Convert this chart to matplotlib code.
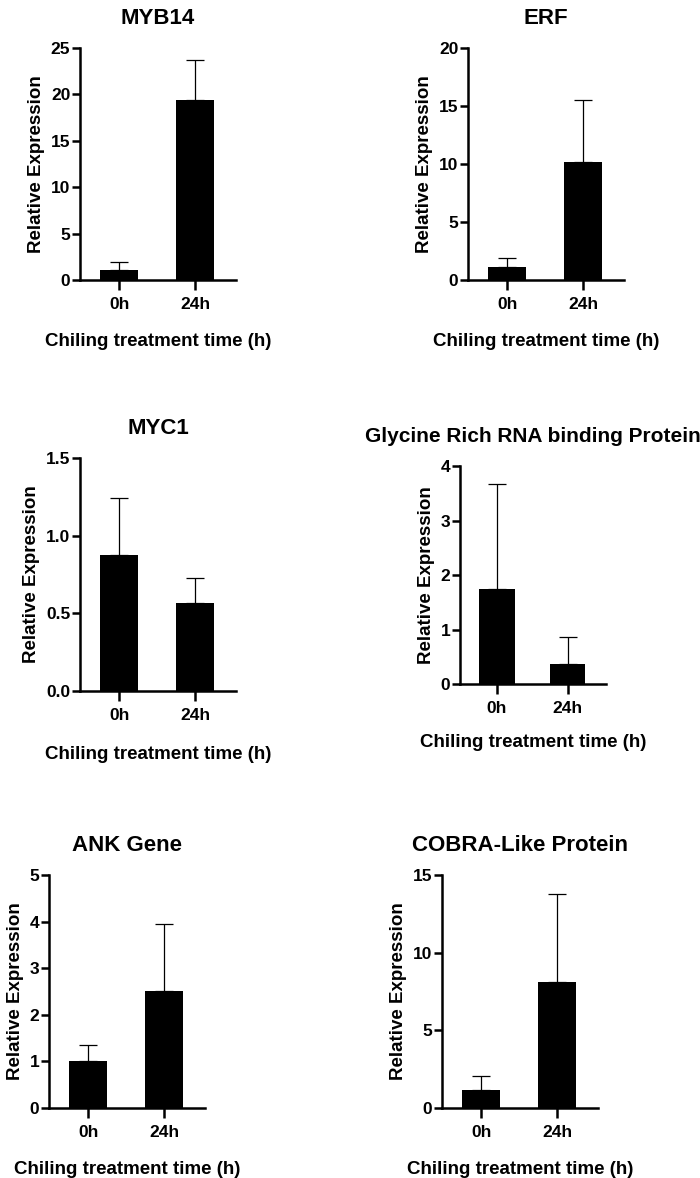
import matplotlib.pyplot as plt

plt.rcParams['font.family'] = ['Liberation Sans', 'DejaVu Sans']
plt.rcParams['font.weight'] = 'bold'

# data
times = ['0h', '24h']
genes = ['MYB14', 'ERF', 'MYC1', 'Glycine Rich RNA binding Protein',
         'ANK Gene', 'COBRA-Like Protein']
myb14_mean = [1.08, 19.35]
myb14_sd = [0.90, 4.40]
erf_mean = [1.09, 10.16]
erf_sd = [0.84, 5.38]
myc1_mean = [0.876, 0.564]
myc1_sd = [0.366, 0.161]
grp_mean = [1.74, 0.37]
grp_sd = [1.93, 0.49]
ank_mean = [1.00, 2.52]
ank_sd = [0.35, 1.42]
cobra_mean = [1.14, 8.10]
cobra_sd = [0.91, 5.66]

y_max = [25, 20, 1.5, 4, 5, 15]
y_step = [5, 5, 0.5, 1, 1, 5]

means = [myb14_mean, erf_mean, myc1_mean, grp_mean, ank_mean, cobra_mean]
sds = [myb14_sd, erf_sd, myc1_sd, grp_sd, ank_sd, cobra_sd]

# axes boxes in pixels: x_left, x_right, y_top, y_base (from top of image)
boxes = [
    (80, 236, 48, 280),
    (468, 624, 48, 280),
    (80, 236, 458, 691),
    (460, 606, 466, 684),
    (49, 205, 875, 1108),
    (442, 598, 875, 1108),
]
title_size = [16, 16, 16, 15, 16, 16]
xlabel_pad = [15.5, 15.5, 17, 13.5, 15, 15]

W, H = 700, 1178
fig = plt.figure(figsize=(W / 100, H / 100), dpi=100)

for i, (x0, x1, yt, yb) in enumerate(boxes):
    ax = fig.add_axes([x0 / W, 1 - yb / H, (x1 - x0) / W, (yb - yt) / H])
    pos = list(range(len(times)))
    ax.bar(pos, means[i], width=0.5, color='black', zorder=2)
    ax.errorbar(pos, means[i], yerr=[[0] * len(times), sds[i]], fmt='none',
                ecolor='black', elinewidth=0.9, capsize=6.5, capthick=0.9,
                zorder=1)
    ax.set_xlim(-0.52, 1.54)
    ax.set_ylim(0, y_max[i])
    n = int(round(y_max[i] / y_step[i]))
    ticks = [k * y_step[i] for k in range(n + 1)]
    ax.set_yticks(ticks)
    if y_step[i] < 1:
        ax.set_yticklabels([f'{t:.1f}' for t in ticks])
    else:
        ax.set_yticklabels([f'{int(t)}' for t in ticks])
    ax.set_xticks(pos)
    ax.set_xticklabels(times)
    ax.spines['top'].set_visible(False)
    ax.spines['right'].set_visible(False)
    ax.spines['left'].set_linewidth(1.8)
    ax.spines['bottom'].set_linewidth(1.8)
    ax.tick_params(axis='both', width=1.8, length=5.5, labelsize=12.5, pad=1.5)
    ax.tick_params(axis='x', length=7.5, pad=4.5)
    ax.set_title(genes[i], fontsize=title_size[i], fontweight='bold', pad=17)
    ax.set_ylabel('Relative Expression', fontsize=13.5, fontweight='bold',
                  labelpad=4)
    ax.set_xlabel('Chiling treatment time (h)', fontsize=13.5,
                  fontweight='bold', labelpad=xlabel_pad[i])

fig.savefig('out.png', dpi=100, facecolor='white')
